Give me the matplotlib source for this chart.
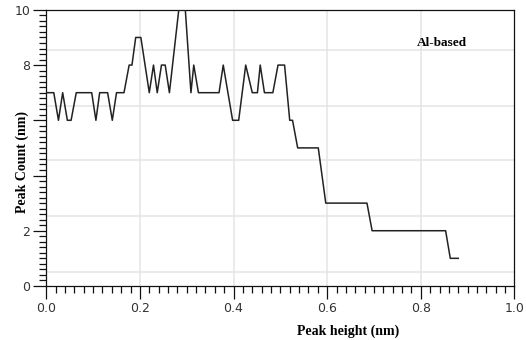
import matplotlib.pyplot as plt
from matplotlib.ticker import MultipleLocator

# traced peak-count curve
peak_height = [0.0, 0.016, 0.026, 0.035, 0.045, 0.053, 0.064, 0.097, 0.106, 0.114,
               0.131, 0.141, 0.150, 0.166, 0.177, 0.183, 0.191, 0.202, 0.220, 0.229,
               0.237, 0.246, 0.254, 0.263, 0.283, 0.297, 0.309, 0.315, 0.325, 0.369,
               0.378, 0.398, 0.411, 0.426, 0.440, 0.451, 0.457, 0.466, 0.484, 0.495,
               0.509, 0.520, 0.526, 0.537, 0.581, 0.597, 0.685, 0.696, 0.853, 0.863,
               0.880]
peak_count = [7, 7, 6, 7, 6, 6, 7, 7, 6, 7,
              7, 6, 7, 7, 8, 8, 9, 9, 7, 8,
              7, 8, 8, 7, 10, 10, 7, 8, 7, 7,
              8, 6, 6, 8, 7, 7, 8, 7, 7, 8,
              8, 6, 6, 5, 5, 3, 3, 2, 2, 1,
              1]

x_ticks = [0.0, 0.2, 0.4, 0.6, 0.8, 1.0]
y_ticks = [0, 2, 4, 6, 8, 10]
y_tick_labels = ['0', '2', '', '', '8', '10']
grid_x = [0.2, 0.4, 0.6, 0.8]
grid_y = [0.5, 2.55, 4.55, 6.5, 8.55]

fig = plt.figure(figsize=(5.26, 3.4), dpi=100)
ax = fig.add_axes([0.088, 0.159, 0.89, 0.812])

for gx in grid_x:
    ax.axvline(gx, color='#e4e4e4', lw=1.1, zorder=0)
for gy in grid_y:
    ax.axhline(gy, color='#e4e4e4', lw=1.1, zorder=0)

ax.plot(peak_height, peak_count, color='#222222', lw=1.1, zorder=3)

ax.set_xlim(0, 1.0)
ax.set_ylim(0, 10)
ax.set_xticks(x_ticks)
ax.set_xticklabels([f'{v:.1f}' for v in x_ticks])
ax.set_yticks(y_ticks)
ax.set_yticklabels(y_tick_labels)
ax.xaxis.set_minor_locator(MultipleLocator(0.02))
ax.yaxis.set_minor_locator(MultipleLocator(0.2))
ax.tick_params(which='major', length=9.5, width=0.9, color='#111111',
               labelsize=9, labelcolor='#333333', pad=2)
ax.tick_params(which='minor', length=5, width=0.9, color='#111111')

for s in ax.spines.values():
    s.set_linewidth(0.9)
    s.set_color('#111111')

ax.set_xlabel('Peak height (nm)', fontfamily='Liberation Serif',
              fontweight='bold', fontsize=10)
ax.xaxis.set_label_coords(0.645, -0.14)
ax.set_ylabel('Peak Count (nm)', fontfamily='Liberation Serif',
              fontweight='bold', fontsize=10)
ax.yaxis.set_label_coords(-0.036, 0.45)

ax.text(0.845, 0.88, 'Al-based', transform=ax.transAxes, ha='center',
        va='center', fontfamily='Liberation Serif', fontweight='bold',
        fontsize=9.5)

fig.savefig('out.png', dpi=100)
